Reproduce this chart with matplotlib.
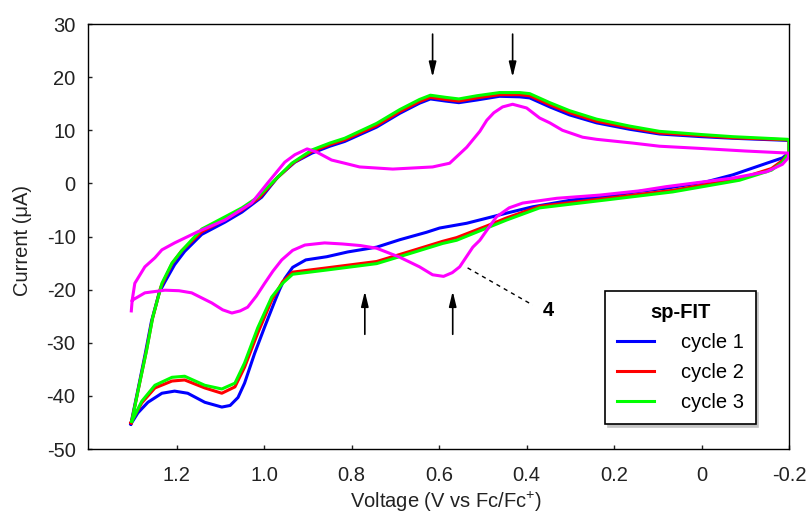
import matplotlib
matplotlib.use("Agg")
import matplotlib.pyplot as plt

plt.rcParams['font.family'] = ['Liberation Sans', 'DejaVu Sans']
plt.rcParams['mathtext.fontset'] = 'custom'
plt.rcParams['mathtext.rm'] = 'Liberation Sans'
plt.rcParams['axes.unicode_minus'] = False

# ---------------- data ----------------
# each cycle: upper branch from 1.3 V to -0.2 V, then lower branch back to 1.3 V

# cycle 1 (blue)
c1_v = [1.305, 1.288, 1.272, 1.258, 1.240, 1.227, 1.205, 1.182, 1.143, 1.090,
        1.051, 1.006, 0.969, 0.930, 0.891, 0.850, 0.816, 0.743, 0.690, 0.645,
        0.620, 0.585, 0.555, 0.514, 0.462, 0.416, 0.393, 0.347, 0.302, 0.240,
        0.165, 0.096, 0.000, -0.071, -0.197, -0.200,
        -0.200, -0.185, -0.149, -0.071, -0.011, 0.080, 0.142, 0.233, 0.295,
        0.386, 0.446, 0.537, 0.599, 0.629, 0.690, 0.743, 0.809, 0.857, 0.905,
        0.935, 0.953, 0.965, 0.976, 0.999, 1.022, 1.045, 1.060, 1.078, 1.097,
        1.136, 1.175, 1.205, 1.234, 1.266, 1.289, 1.305]
c1_i = [-45.3, -38.5, -32.0, -26.0, -20.5, -18.5, -15.3, -12.8, -9.6, -7.3,
        -5.4, -2.6, 1.2, 4.0, 5.7, 7.0, 7.9, 10.6, 13.2, 15.1,
        15.9, 15.5, 15.2, 15.7, 16.4, 16.3, 16.1, 14.4, 12.9, 11.4,
        10.2, 9.3, 8.8, 8.5, 8.1, 8.0,
        5.8, 4.8, 3.8, 1.6, 0.3, -0.9, -1.5, -2.6, -3.1,
        -4.4, -5.6, -7.5, -8.4, -9.2, -10.6, -12.0, -12.9, -13.8, -14.4,
        -15.8, -17.9, -20.0, -22.2, -27.0, -32.0, -37.6, -40.3, -41.8, -42.1,
        -41.2, -39.5, -39.1, -39.5, -41.2, -43.2, -45.3]

# cycle 2 (red)
c2_v = [1.304, 1.286, 1.270, 1.256, 1.237, 1.211, 1.189, 1.143, 1.090,
        1.051, 1.010, 0.972, 0.933, 0.891, 0.850, 0.816, 0.743, 0.690, 0.645,
        0.620, 0.585, 0.555, 0.514, 0.462, 0.416, 0.393, 0.347, 0.302, 0.240,
        0.165, 0.096, 0.000, -0.071, -0.197, -0.200,
        -0.200, -0.185, -0.160, -0.087, 0.066, 0.217, 0.370, 0.446, 0.491,
        0.560, 0.592, 0.667, 0.743, 0.857, 0.935, 0.958, 0.983, 1.015, 1.045,
        1.067, 1.097, 1.136, 1.182, 1.211, 1.250, 1.280, 1.305]
c2_i = [-45.1, -38.0, -31.7, -25.6, -19.6, -15.1, -12.7, -9.1, -6.8,
        -5.0, -2.6, 0.9, 3.9, 6.0, 7.3, 8.2, 10.9, 13.5, 15.4,
        16.2, 15.8, 15.5, 16.1, 16.7, 16.7, 16.5, 14.8, 13.3, 11.7,
        10.5, 9.5, 9.0, 8.6, 8.2, 8.1,
        5.8, 4.3, 2.8, 0.9, -1.3, -2.8, -4.3, -6.5, -8.0,
        -10.2, -10.9, -12.8, -14.7, -15.9, -16.7, -18.5, -22.0, -28.2, -34.6,
        -38.3, -39.5, -38.5, -37.0, -37.2, -38.5, -41.3, -45.0]

# cycle 3 (green)
c3_v = [1.303, 1.285, 1.269, 1.255, 1.234, 1.211, 1.189, 1.143, 1.090,
        1.051, 1.015, 0.976, 0.937, 0.891, 0.850, 0.816, 0.743, 0.690, 0.645,
        0.620, 0.585, 0.555, 0.514, 0.462, 0.416, 0.393, 0.347, 0.302, 0.240,
        0.165, 0.096, 0.000, -0.071, -0.197, -0.200,
        -0.200, -0.185, -0.160, -0.087, 0.066, 0.217, 0.370, 0.446, 0.491,
        0.560, 0.592, 0.667, 0.743, 0.857, 0.935, 0.958, 0.983, 1.015, 1.045,
        1.067, 1.097, 1.136, 1.182, 1.211, 1.250, 1.280, 1.303]
c3_i = [-44.8, -37.6, -31.4, -25.2, -18.8, -15.0, -12.7, -8.6, -6.3,
        -4.6, -2.6, 0.6, 3.8, 6.3, 7.6, 8.5, 11.3, 13.9, 15.8,
        16.6, 16.2, 15.9, 16.5, 17.1, 17.1, 16.9, 15.2, 13.7, 12.1,
        10.8, 9.8, 9.2, 8.8, 8.3, 8.1,
        5.8, 4.0, 2.5, 0.6, -1.6, -3.1, -4.6, -6.9, -8.4,
        -10.7, -11.3, -13.2, -15.1, -16.3, -17.1, -18.8, -21.4, -27.2, -33.8,
        -37.6, -38.7, -38.0, -36.3, -36.5, -38.0, -41.0, -44.8]

# compound 4 (magenta): lower branch from 1.3 V to -0.2 V, then upper branch back
c4_v = [1.304, 1.302, 1.273, 1.227, 1.195, 1.166, 1.120, 1.095, 1.074, 1.055,
        1.038, 1.018, 0.999, 0.980, 0.960, 0.935, 0.907, 0.862, 0.821, 0.780,
        0.743, 0.690, 0.645, 0.615, 0.590, 0.570, 0.553, 0.523, 0.507, 0.490,
        0.469, 0.440, 0.409, 0.331, 0.233, 0.142, 0.080, -0.071, -0.149, -0.185,
        -0.198, -0.200,
        -0.100, 0.005, 0.096, 0.158, 0.240, 0.272, 0.318, 0.347, 0.370, 0.400,
        0.432, 0.455, 0.475, 0.491, 0.507, 0.537, 0.576, 0.615, 0.706, 0.782,
        0.816, 0.846, 0.880, 0.902, 0.930, 0.953, 0.992, 1.029, 1.090, 1.152,
        1.205, 1.234, 1.250, 1.273, 1.296, 1.302]
c4_i = [-24.0, -22.0, -20.6, -20.1, -20.2, -20.6, -22.5, -23.8, -24.4, -24.0,
        -23.3, -21.2, -18.8, -16.5, -14.4, -12.6, -11.6, -11.2, -11.4, -11.7,
        -12.2, -13.9, -15.7, -17.2, -17.5, -16.8, -15.7, -12.0, -10.7, -8.7,
        -6.3, -4.6, -3.7, -2.8, -2.2, -1.4, -0.6, 1.0, 2.2, 3.6,
        4.8, 5.7,
        6.1, 6.6, 7.0, 7.6, 8.3, 8.7, 10.0, 11.4, 12.3, 14.2,
        14.9, 14.4, 13.3, 11.9, 9.8, 6.8, 3.8, 3.1, 2.7, 3.1,
        3.8, 4.4, 5.9, 6.5, 5.4, 4.0, 0.1, -3.7, -6.9, -9.1,
        -11.2, -12.5, -14.0, -15.7, -18.8, -22.0]

x_ticks = [1.2, 1.0, 0.8, 0.6, 0.4, 0.2, 0.0, -0.2]
x_labels = ['1.2', '1.0', '0.8', '0.6', '0.4', '0.2', '0', '-0.2']
y_ticks = [30, 20, 10, 0, -10, -20, -30, -40, -50]
y_labels = ['30', '20', '10', '0', '-10', '-20', '-30', '-40', '-50']

down_arrows_v = [0.615, 0.432]
up_arrows_v = [0.770, 0.569]
# ------------------------------------------------------------

FS = 14.5

fig = plt.figure(figsize=(8.06, 5.16), dpi=100)
ax = fig.add_axes([0.1092, 0.1298, 0.8697, 0.8236])

lw = 2.2
ax.plot(c1_v, c1_i, color='#0000ff', lw=lw, label='cycle 1', zorder=2)
ax.plot(c2_v, c2_i, color='#ff0000', lw=lw, label='cycle 2', zorder=3)
ax.plot(c3_v, c3_i, color='#00ff00', lw=lw, label='cycle 3', zorder=4)
ax.plot(c4_v, c4_i, color='#ff00ff', lw=lw, zorder=5)

ax.set_xlim(1.403, -0.2)
ax.set_ylim(-50, 30)

ax.set_xticks(x_ticks)
ax.set_xticklabels(x_labels)
ax.set_yticks(y_ticks)
ax.set_yticklabels(y_labels)
ax.tick_params(direction='in', length=3, width=1, labelsize=FS, colors='#222222')
ax.tick_params(axis='x', pad=12)
ax.tick_params(axis='y', pad=9)
for sp in ax.spines.values():
    sp.set_linewidth(1.0)

ax.set_xlabel('Voltage (V vs Fc/Fc$^{+}$)', fontsize=FS, color='#222222')
ax.xaxis.set_label_coords(0.51, -0.097)
ax.set_ylabel('Current (μA)', fontsize=FS, color='#222222')
ax.yaxis.set_label_coords(-0.080, 0.49)

# peak arrows
arrow_style = dict(arrowstyle='-|>,head_width=0.22,head_length=0.9', color='black', lw=1.2,
                   shrinkA=0, shrinkB=0)
for v in down_arrows_v:
    ax.annotate('', xy=(v, 20.0), xytext=(v, 28.1), arrowprops=arrow_style)
for v in up_arrows_v:
    ax.annotate('', xy=(v, -20.3), xytext=(v, -28.4), arrowprops=arrow_style)

# label for curve 4
ax.plot([0.535, 0.386], [-15.9, -22.9], color='black', lw=1.0, ls=(0, (3, 3)))
ax.text(0.35, -24.0, '4', fontsize=FS, fontweight='bold', ha='center', va='center')

leg = ax.legend(loc='lower left', bbox_to_anchor=(0.7375, 0.0588), borderaxespad=0,
                fontsize=FS, title='sp-FIT', title_fontproperties={'weight': 'bold', 'size': FS},
                frameon=True, fancybox=False, edgecolor='black', framealpha=1,
                shadow={'color': '#c4c4c4', 'alpha': 1},
                handlelength=1.85, handletextpad=1.3, labelspacing=0.55, borderpad=0.6)
leg.get_frame().set_linewidth(1.2)

fig.savefig('out.png', dpi=100)
